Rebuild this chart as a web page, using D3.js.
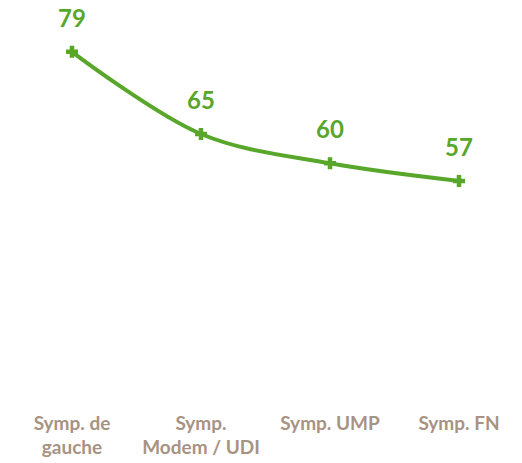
<!DOCTYPE html>
<html>
<head>
<meta charset="utf-8">
<script src="https://cdn.jsdelivr.net/npm/d3@7"></script>
<style>
  body { margin: 0; background: #fff; }
  svg { display: block; }
</style>
</head>
<body>
<div id="chart"></div>
<script>
// data
var categories = ["Symp. de gauche", "Symp. Modem / UDI", "Symp. UMP", "Symp. FN"];
var labelLines = [["Symp. de", "gauche"], ["Symp.", "Modem / UDI"], ["Symp. UMP"], ["Symp. FN"]];
var values = [79, 65, 60, 57];

var width = 522, height = 463;
var green = "#58a72a", tan = "#a89383";

var svg = d3.select("#chart").append("svg")
    .attr("width", width)
    .attr("height", height);

// scales
var x = d3.scalePoint()
    .domain(categories)
    .range([72, 459]);
var y = d3.scaleLinear()
    .domain([20, 80])
    .range([398, 46]);

var line = d3.line()
    .x(function(d, i) { return x(categories[i]); })
    .y(function(d) { return y(d); })
    .curve(d3.curveCatmullRom.alpha(0.5));

svg.append("path")
    .datum(values)
    .attr("d", line)
    .attr("fill", "none")
    .attr("stroke", green)
    .attr("stroke-width", 4);

// plus markers
var pts = svg.selectAll(".pt")
    .data(values)
    .enter().append("g")
    .attr("class", "pt")
    .attr("transform", function(d, i) { return "translate(" + x(categories[i]) + "," + y(d) + ")"; });
pts.append("path")
    .attr("d", "M-6,0H6M0,-6V6")
    .attr("stroke", green)
    .attr("stroke-width", 4.5);

// value labels
svg.selectAll(".val")
    .data(values)
    .enter().append("text")
    .attr("class", "val")
    .attr("x", function(d, i) { return x(categories[i]); })
    .attr("y", function(d) { return y(d) - 25; })
    .attr("text-anchor", "middle")
    .attr("font-family", "Lato, sans-serif")
    .attr("font-weight", "bold")
    .attr("font-size", 24)
    .attr("fill", green)
    .text(function(d) { return d; });

// category labels
var cat = svg.selectAll(".cat")
    .data(labelLines)
    .enter().append("text")
    .attr("class", "cat")
    .attr("x", function(d, i) { return x(categories[i]); })
    .attr("y", 430)
    .attr("text-anchor", "middle")
    .attr("font-family", "Lato, sans-serif")
    .attr("font-weight", "bold")
    .attr("font-size", 19)
    .attr("fill", tan);
cat.selectAll("tspan")
    .data(function(d) { return d; })
    .enter().append("tspan")
    .attr("x", function() { return d3.select(this.parentNode).attr("x"); })
    .attr("dy", function(d, i) { return i === 0 ? 0 : 24; })
    .text(function(d) { return d; });
</script>
</body>
</html>
